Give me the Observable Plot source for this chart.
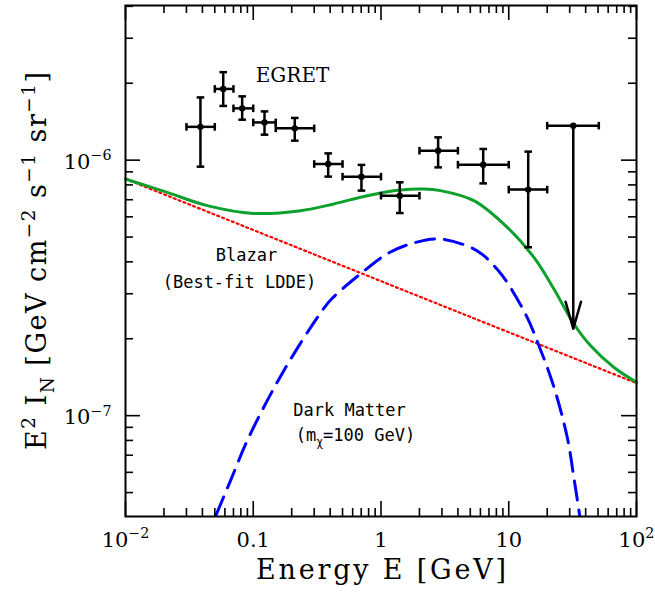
<!DOCTYPE html>
<html><head><meta charset="utf-8">
<script src="https://cdn.jsdelivr.net/npm/d3@7"></script>
<script src="https://cdn.jsdelivr.net/npm/@observablehq/plot@0.6"></script>
<style>body{margin:0;background:#fff}</style>
</head><body><div id="chart"></div>
<script>
// ---- tick definitions ----
const xMajorTicks = [0.01, 0.1, 1, 10, 100];
const xTickLabels = ["10^{−2}", "0.1", "1", "10", "10^{2}"];
const xMinorTicks = [0.02,0.03,0.04,0.05,0.06,0.07,0.08,0.09,0.2,0.3,0.4,0.5,0.6,0.7,0.8,0.9,2,3,4,5,6,7,8,9,20,30,40,50,60,70,80,90];
const yMajorTicks = [1e-7, 1e-6];
const yTickLabels = ["10^{−7}", "10^{−6}"];
const yMinorTicks = [5e-8,6e-8,7e-8,8e-8,9e-8,2e-7,3e-7,4e-7,5e-7,6e-7,7e-7,8e-7,9e-7,2e-6,3e-6,4e-6];

// ---- EGRET data (GeV, GeV cm^-2 s^-1 sr^-1) ----
const egretE      = [0.0386, 0.0582, 0.0819, 0.1225, 0.2113, 0.386, 0.703, 1.403, 2.80, 6.31, 14.2];
const egretELo    = [0.03, 0.05, 0.07, 0.1, 0.15, 0.3, 0.5, 1, 2, 4, 10];
const egretEHi    = [0.05, 0.07, 0.1, 0.15, 0.3, 0.5, 1, 2, 4, 10, 20];
const egretFlux   = [1.35e-6, 1.90e-6, 1.595e-6, 1.405e-6, 1.332e-6, 0.966e-6, 0.862e-6, 0.726e-6, 1.089e-6, 0.960e-6, 0.767e-6];
const egretFluxLo = [0.943e-6, 1.63e-6, 1.44e-6, 1.258e-6, 1.192e-6, 0.862e-6, 0.760e-6, 0.621e-6, 0.937e-6, 0.811e-6, 0.456e-6];
const egretFluxHi = [1.76e-6, 2.21e-6, 1.777e-6, 1.552e-6, 1.463e-6, 1.063e-6, 0.958e-6, 0.819e-6, 1.228e-6, 1.106e-6, 1.08e-6];

// upper limit bin
const ulE = [32.0], ulELo = [20], ulEHi = [50.7], ulFlux = [1.365e-6], ulTip = [2.19e-7];

// ---- model curves ----
const blazarE    = [0.01, 0.1, 1, 10, 100];
const blazarFlux = [8.44e-7, 5.33e-7, 3.36e-7, 2.12e-7, 1.34e-7];

const dmE    = [0.0423, 0.0506, 0.0664, 0.0923, 0.1734, 0.3465, 0.415, 0.691, 1.118, 1.70, 2.83, 5.02, 6.38, 8.12, 9.73, 13.9, 17.5, 22.3, 28.7, 32.3, 36.0, 38.0];
const dmFlux = [3.22e-8, 4.03e-8, 5.57e-8, 8.23e-8, 1.50e-7, 2.58e-7, 2.88e-7, 3.59e-7, 4.30e-7, 4.70e-7, 4.92e-7, 4.56e-7, 4.23e-7, 3.74e-7, 3.32e-7, 2.43e-7, 1.84e-7, 1.32e-7, 8.23e-8, 5.74e-8, 4.03e-8, 3.32e-8];

const totalE    = [0.01, 0.0212, 0.0436, 0.1, 0.2345, 0.427, 0.78, 1.42, 2.16, 2.92, 5.33, 9.73, 15.7, 22.5, 32.3, 43.6, 66.4, 100];
const totalFlux = [8.44e-7, 7.48e-7, 6.64e-7, 6.19e-7, 6.34e-7, 6.74e-7, 7.26e-7, 7.64e-7, 7.71e-7, 7.60e-7, 6.94e-7, 5.46e-7, 4.17e-7, 3.14e-7, 2.29e-7, 1.88e-7, 1.547e-7, 1.35e-7];

// ---- annotations ----
const labelText = ["EGRET", "Blazar", "(Best-fit LDDE)", "Dark Matter", "(m_{χ}=100 GeV)"];
const labelE    = [0.203, 0.0885, 0.078, 0.567, 0.631];
const labelFlux = [2.14e-6, 4.23e-7, 3.33e-7, 1.047e-7, 8.36e-8];
const xTitle = "Energy E [GeV]";
const yTitle = "E^{2} I_{N} [GeV cm^{−2} s^{−1} sr^{−1}]";

// ---- build tables ----
const egret = egretE.map((e, i) => ({e, lo: egretELo[i], hi: egretEHi[i], f: egretFlux[i], fLo: egretFluxLo[i], fHi: egretFluxHi[i]}));
const ul = ulE.map((e, i) => ({e, lo: ulELo[i], hi: ulEHi[i], f: ulFlux[i], tip: ulTip[i]}));
const blazar = blazarE.map((e, i) => ({e, f: blazarFlux[i]}));
const dm = dmE.map((e, i) => ({e, f: dmFlux[i]}));
const total = totalE.map((e, i) => ({e, f: totalFlux[i]}));
const labels = labelText.map((t, i) => ({t, e: labelE[i], f: labelFlux[i]}));

const hbar = {draw(ctx, size) { const r = Math.sqrt(size / Math.PI); ctx.moveTo(-r, 0); ctx.lineTo(r, 0); }};
const vbar = {draw(ctx, size) { const r = Math.sqrt(size / Math.PI); ctx.moveTo(0, -r); ctx.lineTo(0, r); }};

const W = 655, H = 603, mT = 5, mR = 19, mB = 87, mL = 125;
const innerH = H - mT - mB, innerW = W - mL - mR;
const major = 15, minor = 8;
const serif = "DejaVu Serif", mono = "DejaVu Sans Mono";
const bw = 2.5;

const chart = Plot.plot({
  width: W, height: H,
  marginTop: mT, marginRight: mR, marginBottom: mB, marginLeft: mL,
  x: {type: "log", domain: [0.01, 100], axis: null},
  y: {type: "log", domain: [4.03e-8, 4.03e-6], axis: null},
  style: {background: "white", fontFamily: serif, color: "black"},
  marks: [
    // curves
    Plot.line(blazar, {x: "e", y: "f", stroke: "#ff0000", strokeWidth: 2.2, strokeDasharray: "2,3.2"}),
    Plot.line(dm, {x: "e", y: "f", stroke: "#0000ff", strokeWidth: 3, strokeDasharray: "19,10", curve: "catmull-rom", clip: true}),
    Plot.line(total, {x: "e", y: "f", stroke: "#0ca02c", strokeWidth: 3, curve: "catmull-rom"}),
    // EGRET error bars
    Plot.ruleY(egret, {y: "f", x1: "lo", x2: "hi", stroke: "black", strokeWidth: bw}),
    Plot.ruleX(egret, {x: "e", y1: "fLo", y2: "fHi", stroke: "black", strokeWidth: bw}),
    Plot.dot(egret, {x: "lo", y: "f", symbol: vbar, r: 3.8, stroke: "black", strokeWidth: bw, fill: "none"}),
    Plot.dot(egret, {x: "hi", y: "f", symbol: vbar, r: 3.8, stroke: "black", strokeWidth: bw, fill: "none"}),
    Plot.dot(egret, {x: "e", y: "fLo", symbol: hbar, r: 3.8, stroke: "black", strokeWidth: bw, fill: "none"}),
    Plot.dot(egret, {x: "e", y: "fHi", symbol: hbar, r: 3.8, stroke: "black", strokeWidth: bw, fill: "none"}),
    Plot.dot(egret, {x: "e", y: "f", r: 3.2, fill: "black"}),
    // upper limit
    Plot.ruleY(ul, {y: "f", x1: "lo", x2: "hi", stroke: "black", strokeWidth: bw}),
    Plot.dot(ul, {x: "lo", y: "f", symbol: vbar, r: 3.8, stroke: "black", strokeWidth: bw, fill: "none"}),
    Plot.dot(ul, {x: "hi", y: "f", symbol: vbar, r: 3.8, stroke: "black", strokeWidth: bw, fill: "none"}),
    Plot.arrow(ul, {x1: "e", y1: "f", x2: "e", y2: "tip", stroke: "black", strokeWidth: bw, headLength: 16.8, headAngle: 32}),
    Plot.dot(ul, {x: "e", y: "f", r: 3.2, fill: "black"}),
    // ticks (inward, all four sides)
    Plot.tickX(xMajorTicks, {x: d => d, insetTop: innerH - major, stroke: "black", strokeWidth: 1.6}),
    Plot.tickX(xMajorTicks, {x: d => d, insetBottom: innerH - major, stroke: "black", strokeWidth: 1.6}),
    Plot.tickX(xMinorTicks, {x: d => d, insetTop: innerH - minor, stroke: "black", strokeWidth: 1.6}),
    Plot.tickX(xMinorTicks, {x: d => d, insetBottom: innerH - minor, stroke: "black", strokeWidth: 1.6}),
    Plot.tickY(yMajorTicks, {y: d => d, insetRight: innerW - major, stroke: "black", strokeWidth: 1.6}),
    Plot.tickY(yMajorTicks, {y: d => d, insetLeft: innerW - major, stroke: "black", strokeWidth: 1.6}),
    Plot.tickY(yMinorTicks, {y: d => d, insetRight: innerW - minor, stroke: "black", strokeWidth: 1.6}),
    Plot.tickY(yMinorTicks, {y: d => d, insetLeft: innerW - minor, stroke: "black", strokeWidth: 1.6}),
    Plot.frame({stroke: "black", strokeWidth: 2}),
    // tick labels
    Plot.text(xMajorTicks, {x: d => d, frameAnchor: "bottom", dy: 30, text: (d, i) => xTickLabels[i], fontSize: 21, fill: "black"}),
    Plot.text(yMajorTicks, {y: d => d, frameAnchor: "left", dx: -14, dy: 2, textAnchor: "end", text: (d, i) => yTickLabels[i], fontSize: 21, fill: "black"}),
    // axis titles
    Plot.text([xTitle], {frameAnchor: "bottom", dy: 62, text: d => d, fontSize: 27, fill: "black"}),
    Plot.text([yTitle], {frameAnchor: "left", textAnchor: "middle", text: d => d, fontSize: 27, fill: "black"}),
    // annotations
    Plot.text(labels.slice(0, 1), {x: "e", y: "f", text: "t", fontSize: 20, fill: "black"}),
    Plot.text(labels.slice(1), {x: "e", y: "f", text: "t", fontSize: 17, fontFamily: mono, fill: "black"})
  ]
});

document.getElementById("chart").appendChild(chart);

// locate the axis titles by their text
const allTexts = Array.from(chart.querySelectorAll("text"));
const xt = allTexts.find(t => t.textContent === xTitle);
const yt = allTexts.find(t => t.textContent === yTitle);

// rich text: ^{...} superscript, _{...} subscript
allTexts.forEach(t => {
  const s = t.textContent;
  if (!/[\^_]\{/.test(s)) return;
  const fs = parseFloat(getComputedStyle(t).fontSize);
  t.textContent = "";
  const re = /([\^_])\{([^}]*)\}/g;
  let last = 0, m, shift = 0;
  const add = (str, kind) => {
    const ts = document.createElementNS("http://www.w3.org/2000/svg", "tspan");
    ts.textContent = str;
    const target = kind === "^" ? -0.42 * fs : kind === "_" ? 0.28 * fs : 0;
    const dy = target - shift; shift = target;
    if (dy) ts.setAttribute("dy", dy);
    if (kind) ts.setAttribute("font-size", 0.68 * fs);
    t.appendChild(ts);
  };
  while ((m = re.exec(s))) {
    if (m.index > last) add(s.slice(last, m.index), null);
    add(m[2], m[1]);
    last = re.lastIndex;
  }
  if (last < s.length) add(s.slice(last), null);
});

// stretch titles to the reference widths
if (xt) { xt.setAttribute("textLength", 250); xt.setAttribute("lengthAdjust", "spacing"); }
if (yt) {
  yt.setAttribute("transform", `translate(${mL - 88},${mT + innerH / 2}) rotate(-90)`);
  yt.setAttribute("text-anchor", "middle");
  yt.setAttribute("textLength", 378);
  yt.setAttribute("lengthAdjust", "spacing");
}
</script>
</body></html>
